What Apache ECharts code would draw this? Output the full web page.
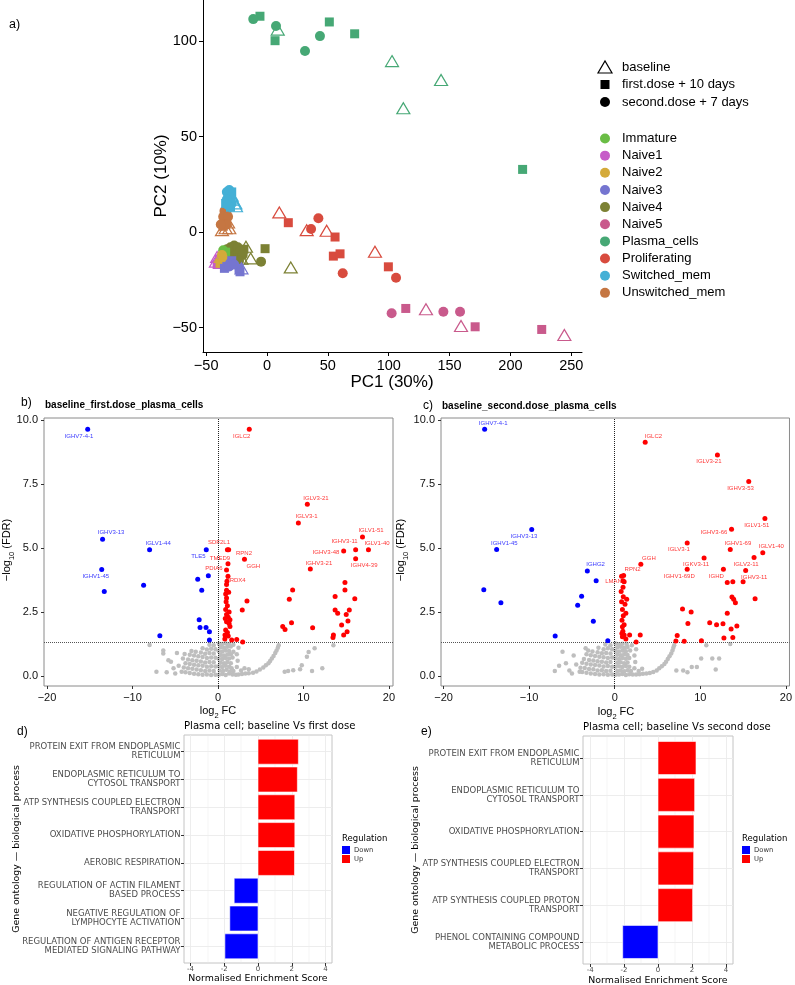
<!DOCTYPE html>
<html><head><meta charset="utf-8">
<script src="https://cdn.jsdelivr.net/npm/echarts/dist/echarts.min.js"></script>
<style>html,body{margin:0;padding:0;background:#fff}#c{width:795px;height:985px}</style>
</head><body><div id="c"></div>
<script>
// ================= DATA =================
// Panel a: PCA, [PC1, PC2, timepoint]  b = baseline, f = first.dose + 10 days, s = second.dose + 7 days
const cellTypes = ['Immature','Naive1','Naive2','Naive3','Naive4','Naive5','Plasma_cells','Proliferating','Switched_mem','Unswitched_mem'];
const Immature = [[-36,-9.5,'s'],[-34,-10.5,'f'],[-37,-11,'b']];
const Naive1 = [[-41,-13,'b'],[-42,-15.5,'b'],[-40,-16,'s'],[-39,-14,'f'],[-41,-17,'f']];
const Naive2 = [[-37,-12,'s'],[-38.6,-16.4,'f'],[-36,-14,'s'],[-38,-13,'b']];
const Naive3 = [[-30.4,-16.3,'s'],[-31,-18,'s'],[-29,-15,'f'],[-33,-18,'f'],[-22.2,-20.8,'f'],[-23,-19,'f'],[-21,-19,'b'],[-27,-17,'s'],[-35,-19,'f']];
const Naive4 = [[-33,-9,'s'],[-30,-8,'s'],[-27,-7,'s'],[-24,-8,'s'],[-22,-10,'s'],[-20,-12,'s'],[-25,-12,'f'],[-28,-11,'f'],[-31,-13,'f'],[-23,-15,'s'],[-26,-16,'f'],[-19,-9,'f'],[-17.3,-7.7,'b'],[-13.4,-13.8,'b'],[-1.6,-8.7,'f'],[-4.9,-15.5,'s'],[19.5,-18.5,'b'],[-21,-14,'b']];
const Naive5 = [[102.4,-42.5,'s'],[114,-40,'f'],[130.6,-40.4,'b'],[144.9,-41.7,'s'],[158.6,-41.7,'s'],[159.4,-49.2,'b'],[171,-49.6,'f'],[225.7,-51,'f'],[244.3,-53.9,'b']];
const Plasma_cells = [[-11.3,111.5,'s'],[-5.8,113,'f'],[7.4,107.9,'s'],[8.8,106,'b'],[6.6,100.2,'f'],[31.2,94.8,'s'],[43.5,102.6,'s'],[51.2,110,'f'],[72,103.8,'f'],[102.7,89.5,'b'],[112,64.8,'b'],[143,79.6,'b'],[210,32.8,'f']];
const Proliferating = [[10.1,10.3,'b'],[17.5,4.9,'f'],[42.2,7.2,'s'],[36.2,1.6,'s'],[32.6,1.0,'b'],[49,0.7,'b'],[55.9,-2.6,'f'],[54.5,-12.6,'f'],[60,-11.4,'f'],[62.2,-21.6,'s'],[88.7,-10.3,'b'],[99.7,-18.2,'f'],[106,-23.9,'s']];
const Switched_mem = [[-33,21,'s'],[-31,22,'s'],[-29,21,'f'],[-32,19,'f'],[-30,18,'s'],[-33,17,'s'],[-31,16,'f'],[-29,15,'s'],[-34,15,'f'],[-32,14,'s'],[-30,13,'f'],[-28,17,'b'],[-26,15,'b'],[-25.5,13.5,'b'],[-29,19,'b']];
const Unswitched_mem = [[-35,11,'s'],[-33,10,'f'],[-36,8,'s'],[-34,7,'f'],[-32,8,'s'],[-35,5,'f'],[-33,4,'s'],[-36,3,'f'],[-34,2,'b'],[-31,2,'b'],[-37,1,'b'],[-32,5,'b'],[-38,4,'s']];
const pc1Ticks = [-50,0,50,100,150,200,250];
const pc2Ticks = [-50,0,50,100];
const timeLabels = ['baseline','first.dose + 10 days','second.dose + 7 days'];

// Panel b: baseline_first.dose_plasma_cells  [log2FC, -log10 FDR]
const grayB = [
[0.1,0.05],[0.5,0.08],[0.9,0.04],[1.3,0.1],[1.7,0.06],[2.1,0.05],[0.2,0.22],[0.6,0.2],[1.0,0.24],[1.4,0.18],[1.8,0.2],
[0.1,0.38],[0.5,0.35],[0.9,0.4],[1.3,0.36],[1.6,0.3],[0.3,0.52],[0.7,0.5],[1.1,0.55],[1.5,0.5],
[0.1,0.67],[0.5,0.66],[0.9,0.7],[1.3,0.68],[1.7,0.72],[0.3,0.82],[0.7,0.8],[1.1,0.84],[1.5,0.85],
[0.1,0.97],[0.5,0.96],[0.9,1.0],[1.3,0.98],[1.8,0.95],[0.3,1.12],[0.7,1.1],[1.1,1.14],[1.5,1.15],
[0.1,1.26],[0.5,1.25],[0.9,1.28],[1.3,1.24],[1.8,1.22],
[-0.3,0.05],[-0.8,0.04],[-1.3,0.06],[-1.8,0.05],[-2.3,0.07],[-2.8,0.09],[-3.3,0.12],[-3.8,0.15],
[-0.5,0.2],[-1.0,0.22],[-1.5,0.2],[-2.0,0.23],[-2.5,0.25],[-3.0,0.28],[-3.5,0.3],[-4.0,0.33],
[-0.3,0.37],[-0.8,0.38],[-1.3,0.36],[-1.8,0.4],[-2.3,0.42],[-2.8,0.44],[-3.3,0.47],[-3.8,0.5],
[-0.5,0.54],[-1.0,0.55],[-1.5,0.53],[-2.0,0.57],[-2.5,0.6],[-3.0,0.62],[-3.5,0.65],[-4.1,0.68],
[-0.3,0.71],[-0.8,0.72],[-1.3,0.7],[-1.8,0.74],[-2.3,0.77],[-2.8,0.8],[-3.3,0.83],[-3.9,0.86],
[-0.5,0.88],[-1.0,0.9],[-1.5,0.87],[-2.0,0.92],[-2.6,0.95],[-3.1,0.98],
[-0.3,1.05],[-0.8,1.07],[-1.3,1.04],[-1.8,1.08],[-0.5,1.2],[-1.0,1.22],
[-4.25,0.17],[-4.6,0.4],[-5.2,0.3],[-5.5,0.56],[-5.8,0.62],[-6.0,0.15],[-6.4,1.0],[-6.4,0.88],[-7.2,0.17],[-8.0,1.21],[-4.8,0.9],[-5.0,0.1],
[2.4,0.06],[2.8,0.08],[3.2,0.1],[3.6,0.11],[4.1,0.13],[4.5,0.18],[4.9,0.25],[5.3,0.33],[5.6,0.42],[5.9,0.5],[6.1,0.59],[6.3,0.68],[6.5,0.78],[6.7,0.9],[6.85,1.0],[7.0,1.1],[7.1,1.2],
[2.2,0.35],[2.3,0.6],[2.2,0.85],[2.4,1.1],[2.7,0.22],[3.1,0.3],[3.6,0.26],
[7.8,0.17],[8.2,0.2],[8.8,0.23],[9.6,0.26],[9.8,0.42],[10.4,0.75],[10.6,0.94],[11.3,1.08],[12.2,0.3],[13.5,1.2],[11.0,0.2]];
const downB = [[-15.24,9.64],[-13.5,5.34],[-8.0,4.93],[-13.6,4.16],[-13.3,3.3],[-8.7,3.55],[-1.37,4.93],[-2.37,3.78],[-1.13,3.92],[-1.9,3.35],[-2.2,2.2],[-2.1,1.9],[-1.4,1.9],[-1.0,1.73],[-6.8,1.57],[-1.0,1.41]];
const upB = [[3.66,9.64],[10.45,6.71],[9.4,5.98],[16.9,5.43],[16.1,4.93],[17.6,4.93],[14.7,4.88],[16.1,4.58],[10.8,4.18],
[1.25,4.93],[1.1,4.93],[3.1,4.56],[1.17,4.39],[1.0,4.14],[1.0,3.58],[1.17,3.9],[1.0,3.35],[1.25,3.27],[1.0,3.05],
[14.85,3.65],[14.85,3.36],[8.73,3.36],[8.34,3.0],[13.7,3.11],[16.0,3.02],[13.7,2.58],[14.0,2.45],[15.36,2.58],[3.39,2.93],[2.84,2.58],
[0.95,2.9],[1.1,2.75],[0.9,2.6],[1.3,2.5],[1.0,2.4],[1.2,2.3],[0.85,2.25],[1.4,2.2],[1.0,2.12],[1.4,1.93],[0.82,1.6],[1.2,1.56],[1.6,1.41],[2.19,1.43],[2.89,1.33],[0.9,1.8],[1.1,1.7],[0.8,1.45],[1.3,2.05],[0.9,3.2],[1.05,3.7],
[7.57,1.93],[7.84,1.82],[8.6,2.08],[11.07,1.89],[13.5,1.6],[13.45,1.5],[14.46,1.99],[15.2,2.15],[15.1,1.73],[14.7,1.6],[15.0,2.4]];
const labelsDownB = [['IGHV7-4-1',-16.26,9.35],['IGHV3-13',-12.5,5.6],['IGLV1-44',-7.0,5.2],['IGHV1-45',-14.3,3.9],['TLE5',-2.3,4.66]];
const labelsUpB = [['IGLC2',2.77,9.38],['IGLV3-21',11.46,6.95],['IGLV3-1',10.37,6.22],['IGLV1-51',17.9,5.68],['IGHV3-11',14.8,5.26],['IGLV1-40',18.6,5.18],['IGHV3-48',12.63,4.83],['IGHV4-39',17.1,4.31],['IGHV3-21',11.8,4.4],['SDF2L1',0.12,5.23],['RPN2',3.04,4.79],['TMED9',0.23,4.61],['GGH',4.13,4.3],['PDIA6',-0.47,4.2],['PRDX4',2.07,3.74]];

// Panel c: baseline_second.dose_plasma_cells
const grayC = [
[0.1,0.05],[0.5,0.06],[0.9,0.08],[1.3,0.04],[1.7,0.07],[2.1,0.06],[0.3,0.2],[0.7,0.22],[1.1,0.19],[1.5,0.23],[1.9,0.2],
[0.1,0.36],[0.5,0.38],[0.9,0.35],[1.3,0.39],[1.7,0.36],[0.3,0.52],[0.7,0.54],[1.1,0.5],[1.5,0.53],
[0.1,0.68],[0.5,0.66],[0.9,0.7],[1.3,0.67],[1.7,0.7],[0.3,0.83],[0.7,0.81],[1.1,0.85],[1.5,0.82],
[0.1,0.98],[0.5,0.96],[0.9,1.0],[1.3,0.97],[1.8,1.0],[0.3,1.12],[0.7,1.14],[1.1,1.1],[1.5,1.13],
[0.1,1.27],[0.5,1.24],[0.9,1.26],[1.4,1.25],[2.0,1.2],
[-0.3,0.06],[-0.8,0.05],[-1.3,0.07],[-1.8,0.06],[-2.3,0.08],[-2.8,0.1],[-3.3,0.13],[-3.8,0.16],
[-0.5,0.21],[-1.0,0.2],[-1.5,0.23],[-2.0,0.22],[-2.5,0.26],[-3.0,0.27],[-3.5,0.31],[-4.0,0.32],
[-0.3,0.36],[-0.8,0.39],[-1.3,0.37],[-1.8,0.41],[-2.3,0.43],[-2.8,0.45],[-3.3,0.48],[-3.8,0.52],
[-0.5,0.55],[-1.0,0.53],[-1.5,0.56],[-2.0,0.58],[-2.5,0.61],[-3.0,0.63],[-3.6,0.66],
[-0.3,0.72],[-0.8,0.7],[-1.3,0.73],[-1.8,0.75],[-2.3,0.78],[-2.8,0.81],[-3.3,0.85],
[-0.5,0.88],[-1.0,0.9],[-1.5,0.89],[-2.0,0.93],[-2.6,0.96],[-3.1,1.0],
[-0.3,1.05],[-0.8,1.08],[-1.3,1.05],[-1.9,1.1],[-0.5,1.2],[-1.1,1.23],
[-4.1,0.17],[-4.5,0.45],[-5.3,0.22],[-5.7,0.5],[-6.1,0.95],[-3.4,1.08],[-6.5,0.4],[-7.0,0.2],[-4.8,0.8],[-5.0,0.1],
[2.5,0.06],[2.9,0.07],[3.3,0.09],[3.7,0.1],[4.1,0.12],[4.5,0.16],[4.9,0.22],[5.2,0.3],[5.5,0.38],[5.8,0.47],[6.0,0.56],[6.2,0.66],[6.4,0.77],[6.6,0.88],[6.75,1.0],[6.85,1.1],[6.95,1.2],
[2.3,0.3],[2.4,0.55],[2.3,0.8],[2.5,1.05],[2.8,0.2],[3.2,0.28],
[7.2,0.22],[8.0,0.22],[8.5,0.15],[9.0,0.35],[9.6,0.35],[10.1,0.68],[10.7,1.2],[11.4,0.68],[12.2,0.68],[13.5,1.25],[11.8,0.25]];
const downC = [[-15.2,9.64],[-9.7,5.72],[-13.8,4.94],[-15.3,3.37],[-13.3,2.86],[-3.2,4.1],[-2.17,3.72],[-3.87,3.12],[-4.33,2.76],[-2.5,2.14],[-6.96,1.56],[-0.81,1.38]];
const upC = [[3.56,9.13],[12.0,8.63],[15.66,7.6],[17.55,6.15],[13.65,5.73],[8.47,5.2],[13.5,4.94],[17.3,4.82],[10.44,4.61],[3.05,4.37],[15.3,4.12],[8.47,4.17],[12.7,4.17],[16.28,4.63],
[13.15,3.65],[13.8,3.68],[15.0,3.68],[1.04,3.93],[0.97,3.72],[1.1,3.68],[0.97,3.47],[1.0,3.1],[13.7,3.09],[13.9,3.0],[16.4,3.02],[14.1,2.86],[7.92,2.62],[8.93,2.5],[13.15,2.45],
[0.85,2.18],[0.9,1.92],[0.84,1.66],[0.9,1.53],[1.1,1.6],[1.74,1.6],[2.98,1.6],[2.5,1.33],[7.3,1.58],[7.15,1.37],[8.12,1.36],[8.55,2.05],[10.13,1.38],[11.1,2.08],[11.9,2.0],[12.65,2.04],[12.76,1.49],[13.6,1.84],[13.8,1.5],[14.27,1.95],
[0.8,2.9],[1.2,2.8],[0.9,2.6],[1.3,2.45],[1.0,2.35],[0.75,3.3],[1.4,3.0],[1.1,2.0],[0.95,1.75],[1.3,1.45],[0.8,3.9]];
const labelsDownC = [['IGHV7-4-1',-14.2,9.89],['IGHV3-13',-10.6,5.46],['IGHV1-45',-12.9,5.19],['IGHG2',-2.24,4.35]];
const labelsUpC = [['IGLC2',4.52,9.37],['IGLV3-21',11.0,8.37],['IGHV3-53',14.7,7.34],['IGLV1-51',16.6,5.9],['IGHV3-66',11.6,5.63],['IGLV3-1',7.5,4.94],['IGHV1-69',14.4,5.19],['IGLV1-40',18.3,5.06],['IGKV3-11',9.5,4.35],['GGH',4.0,4.61],['IGLV2-11',15.35,4.38],['IGHV1-69D',7.54,3.91],['IGHD',11.87,3.91],['IGHV3-11',16.3,3.85],['RPN2',2.09,4.16],['LMAN1',0.06,3.68]];
const volcXTicks = [-20,-10,0,10,20];
const volcYTicks = [0,2.5,5,7.5,10];
const fdrThreshold = 1.3;

// Panels d, e: GSEA normalised enrichment scores (top to bottom)
const catsD = ['PROTEIN EXIT FROM ENDOPLASMIC\nRETICULUM','ENDOPLASMIC RETICULUM TO\nCYTOSOL TRANSPORT','ATP SYNTHESIS COUPLED ELECTRON\nTRANSPORT','OXIDATIVE PHOSPHORYLATION','AEROBIC RESPIRATION','REGULATION OF ACTIN FILAMENT\nBASED PROCESS','NEGATIVE REGULATION OF\nLYMPHOCYTE ACTIVATION','REGULATION OF ANTIGEN RECEPTOR\nMEDIATED SIGNALING PATHWAY'];
const nesD = [2.39,2.33,2.18,2.18,2.16,-1.41,-1.67,-1.96];
const catsE = ['PROTEIN EXIT FROM ENDOPLASMIC\nRETICULUM','ENDOPLASMIC RETICULUM TO\nCYTOSOL TRANSPORT','OXIDATIVE PHOSPHORYLATION','ATP SYNTHESIS COUPLED ELECTRON\nTRANSPORT','ATP SYNTHESIS COUPLED PROTON\nTRANSPORT','PHENOL CONTAINING COMPOUND\nMETABOLIC PROCESS'];
const nesE = [2.24,2.16,2.12,2.10,2.04,-2.08];
const nesTicks = [-4,-2,0,2,4];
const nesGrid = [-4,-3,-2,-1,0,1,2,3,4];

// ================= STYLE =================
const FA = "'Liberation Sans', Arial, Helvetica, sans-serif";
const FD = "'DejaVu Sans', Verdana, sans-serif";
const cellColors = ['#6ABD45','#C65CC8','#D4AA3A','#7575D0','#7C8134','#C95A8C','#46A875','#D84B3E','#44B0D6','#C57642'];
const RED = '#FF0000', BLUE = '#0000FF', GRAY = '#BEBEBE';
const minus = v => v < 0 ? '\u2212' + (-v) : String(v);

const chart = echarts.init(document.getElementById('c'), null, {renderer: 'canvas'});

const grids = [
  {left: 203, top: 0, width: 379, height: 352},
  {left: 44, top: 418, width: 349, height: 268, show: true, borderColor: '#8a8a8a', borderWidth: 1},
  {left: 441, top: 418, width: 351, height: 268, show: true, borderColor: '#8a8a8a', borderWidth: 1},
  {left: 184, top: 735, width: 148, height: 228, show: true, borderColor: '#c4c4c4', borderWidth: 1},
  {left: 583, top: 736, width: 150, height: 228, show: true, borderColor: '#c4c4c4', borderWidth: 1}
];

function axis(gi, min, max, ticks, fmt, o) {
  return {
    gridIndex: gi, type: 'value', min, max,
    axisLine: {show: o.line, onZero: false, lineStyle: {color: '#000', width: 1}},
    axisTick: {show: true, customValues: ticks, length: o.tl, lineStyle: {color: o.tc, width: 1}},
    axisLabel: {customValues: ticks, formatter: fmt, fontSize: o.fs, color: o.lc, fontFamily: o.ff, margin: o.m, lineHeight: o.lh},
    splitLine: {show: false}
  };
}
const oA = {line: true, tl: 4, tc: '#000', fs: 14.5, lc: '#000', ff: FA, m: 6};
const oV = {line: false, tl: 3, tc: '#333', fs: 11, lc: '#111', ff: FA, m: 6};
const oG = {line: false, tl: 3, tc: '#333', fs: 7, lc: '#4D4D4D', ff: FD, m: 3};

const xAxis = [
  axis(0, -52.6, 258.8, pc1Ticks, minus, oA),
  axis(1, -20.35, 20.47, volcXTicks, minus, oV),
  axis(2, -20.3, 20.42, volcXTicks, minus, oV),
  axis(3, -4.38, 4.38, nesTicks, v => String(v), oG),
  axis(4, -4.42, 4.42, nesTicks, v => String(v), oG)
];
const posD = catsD.map((c, i) => catsD.length - i);
const posE = catsE.map((c, i) => catsE.length - i);
const yAxis = [
  axis(0, -62.8, 121.5, pc2Ticks, minus, oA),
  axis(1, -0.39, 10.08, volcYTicks, v => v.toFixed(1), oV),
  axis(2, -0.39, 10.08, volcYTicks, v => v.toFixed(1), oV),
  axis(3, 0.4, 8.6, posD, v => catsD[catsD.length - v], Object.assign({}, oG, {fs: 8.5, lh: 9, m: 3.5})),
  axis(4, 0.4, 6.6, posE, v => catsE[catsE.length - v], Object.assign({}, oG, {fs: 8.5, lh: 9, m: 3.5}))
];

const series = [];
// ---- panel a ----
const cellData = {Immature, Naive1, Naive2, Naive3, Naive4, Naive5, Plasma_cells, Proliferating, Switched_mem, Unswitched_mem};
const shapeOf = {b: 'triangle', f: 'rect', s: 'circle'};
const sizeOf = {b: [13, 11], f: 9, s: 10};
const drawOrder = ['Naive4','Immature','Naive1','Naive2','Naive3','Naive5','Plasma_cells','Proliferating','Unswitched_mem','Switched_mem'];
drawOrder.forEach(ct => {
  const col = cellColors[cellTypes.indexOf(ct)];
  ['b','f','s'].forEach(tp => {
    const pts = cellData[ct].filter(p => p[2] === tp).map(p => [p[0], p[1]]);
    if (!pts.length) return;
    series.push({
      type: 'scatter', xAxisIndex: 0, yAxisIndex: 0, silent: true,
      symbol: shapeOf[tp], symbolSize: sizeOf[tp], data: pts,
      itemStyle: tp === 'b' ? {color: 'rgba(0,0,0,0)', borderColor: col, borderWidth: 1.2, opacity: 1} : {color: col, opacity: 1}
    });
  });
});

// ---- panels b, c ----
function labelSeries(gi, arr, color) {
  return {type: 'scatter', xAxisIndex: gi, yAxisIndex: gi, silent: true, z: 3, symbolSize: 1,
    itemStyle: {color: 'rgba(0,0,0,0)'},
    data: arr.map(d => ({value: [d[1], d[2]], name: d[0]})),
    label: {show: true, position: 'inside', formatter: '{b}', fontSize: 6, color, fontFamily: FA}};
}
function volcano(gi, gray, down, up, ld, lu) {
  series.push({type: 'scatter', xAxisIndex: gi, yAxisIndex: gi, silent: true, z: 2, data: gray, symbolSize: 4.5, itemStyle: {color: GRAY, opacity: 1}});
  series.push({type: 'scatter', xAxisIndex: gi, yAxisIndex: gi, silent: true, z: 2, data: [],
    markLine: {silent: true, z: 3, symbol: 'none', animation: false, label: {show: false},
      data: [{xAxis: 0, lineStyle: {type: 'dotted', color: '#222', width: 1}},
             {yAxis: fdrThreshold, lineStyle: {type: 'dotted', color: '#555', width: 1}}]}});
  series.push({type: 'scatter', xAxisIndex: gi, yAxisIndex: gi, silent: true, z: 4, data: down, symbolSize: 5, itemStyle: {color: BLUE, opacity: 1}});
  series.push({type: 'scatter', xAxisIndex: gi, yAxisIndex: gi, silent: true, z: 4, data: up, symbolSize: 5, itemStyle: {color: RED, opacity: 1}});
  series.push(labelSeries(gi, ld, BLUE));
  series.push(labelSeries(gi, lu, RED));
}
volcano(1, grayB, downB, upB, labelsDownB, labelsUpB);
volcano(2, grayC, downC, upC, labelsDownC, labelsUpC);

// ---- panels d, e ----
function bars(gi, vals, pos) {
  series.push({type: 'scatter', xAxisIndex: gi, yAxisIndex: gi, silent: true, z: 1, data: [],
    markLine: {silent: true, z: 1, symbol: 'none', animation: false, label: {show: false},
      data: nesGrid.map(v => ({xAxis: v, lineStyle: {type: 'solid', color: '#EBEBEB', width: v % 2 === 0 ? 0.9 : 0.45}}))
        .concat(pos.map(p => ({yAxis: p, lineStyle: {type: 'solid', color: '#EBEBEB', width: 0.9}})))}});
  series.push({type: 'custom', xAxisIndex: gi, yAxisIndex: gi, silent: true, z: 8,
    data: vals.map((v, i) => [v, pos[i]]),
    renderItem: (params, api) => {
      const v = api.value(0), p = api.value(1);
      const a = api.coord([0, p]), b = api.coord([v, p]);
      const h = api.size([0, 0.9])[1];
      return {type: 'rect', shape: {x: Math.min(a[0], b[0]), y: a[1] - h / 2, width: Math.abs(b[0] - a[0]), height: h},
        style: {fill: v > 0 ? RED : BLUE, stroke: '#fff', lineWidth: 0.6}};
    }});
}
bars(3, nesD, posD);
bars(4, nesE, posE);

// ---- text / legends ----
function T(x, y, text, o = {}) {
  return {type: 'text', x, y, rotation: o.rot || 0, silent: true, z: 100,
    style: {text, fill: o.fill || '#000', fontSize: o.fs || 12, fontFamily: o.ff || FA, fontWeight: o.fw || 'normal',
      textAlign: o.align || 'left', align: o.align || 'left', textVerticalAlign: 'middle', verticalAlign: 'middle', rich: o.rich}};
}
const g = [];
g.push(T(9, 25, 'a)', {fs: 12.5}));
// shape legend
g.push({type: 'polygon', silent: true, shape: {points: [[598, 73], [612, 73], [605, 61]]}, style: {fill: 'none', stroke: '#000', lineWidth: 1.2}});
g.push({type: 'rect', silent: true, shape: {x: 600.5, y: 80, width: 9, height: 9}, style: {fill: '#000'}});
g.push({type: 'circle', silent: true, shape: {cx: 605, cy: 102, r: 5}, style: {fill: '#000'}});
timeLabels.forEach((t, i) => g.push(T(622, 67 + i * 17.5, t, {fs: 13})));
cellTypes.forEach((ct, i) => {
  const y = 138.5 + i * 17.15;
  g.push({type: 'circle', silent: true, shape: {cx: 605, cy: y, r: 5}, style: {fill: cellColors[i]}});
  g.push(T(622, y, ct, {fs: 13}));
});
g.push(T(161, 176, 'PC2 (10%)', {fs: 17, align: 'center', rot: Math.PI / 2}));
g.push(T(392, 382, 'PC1 (30%)', {fs: 17, align: 'center'}));
// b, c
const richLog = {a: {fontSize: 11, fontFamily: FA, fill: '#000', lineHeight: 18, verticalAlign: 'middle'},
                 s: {fontSize: 7.5, fontFamily: FA, fill: '#000', verticalAlign: 'bottom'}};
g.push(T(21, 403, 'b)', {fs: 12}));
g.push(T(45, 405, 'baseline_first.dose_plasma_cells', {fs: 10, fw: 'bold'}));
g.push(T(423, 406, 'c)', {fs: 12}));
g.push(T(442, 406, 'baseline_second.dose_plasma_cells', {fs: 10, fw: 'bold'}));
g.push(T(7, 550, '{a|\u2212log}{s|10}{a| (FDR)}', {align: 'center', rot: Math.PI / 2, rich: richLog}));
g.push(T(401, 550, '{a|\u2212log}{s|10}{a| (FDR)}', {align: 'center', rot: Math.PI / 2, rich: richLog}));
g.push(T(218, 711, '{a|log}{s|2}{a| FC}', {align: 'center', rich: richLog}));
g.push(T(616, 712, '{a|log}{s|2}{a| FC}', {align: 'center', rich: richLog}));
// d, e
g.push(T(17, 732, 'd)', {fs: 12}));
g.push(T(421, 732, 'e)', {fs: 12}));
g.push(T(184, 726, 'Plasma cell; baseline Vs first dose', {fs: 10.1, ff: FD}));
g.push(T(583, 727, 'Plasma cell; baseline Vs second dose', {fs: 10.1, ff: FD}));
g.push(T(17, 849, 'Gene ontology \u2014 biological process', {fs: 9.4, ff: FD, align: 'center', rot: Math.PI / 2}));
g.push(T(416, 850, 'Gene ontology \u2014 biological process', {fs: 9.4, ff: FD, align: 'center', rot: Math.PI / 2}));
g.push(T(258, 979, 'Normalised Enrichment Score', {fs: 9.4, ff: FD, align: 'center'}));
g.push(T(658, 981, 'Normalised Enrichment Score', {fs: 9.4, ff: FD, align: 'center'}));
[[342, 839], [742, 839]].forEach(([lx, ly]) => {
  g.push(T(lx, ly, 'Regulation', {fs: 8.5, ff: FD}));
  g.push({type: 'rect', silent: true, shape: {x: lx, y: ly + 7, width: 8, height: 8}, style: {fill: BLUE}});
  g.push({type: 'rect', silent: true, shape: {x: lx, y: ly + 16, width: 8, height: 8}, style: {fill: RED}});
  g.push(T(lx + 12, ly + 11.5, 'Down', {fs: 6.8, ff: FD, fill: '#333'}));
  g.push(T(lx + 12, ly + 20.5, 'Up', {fs: 6.8, ff: FD, fill: '#333'}));
});

chart.setOption({
  animation: false,
  backgroundColor: '#ffffff',
  textStyle: {fontFamily: FA},
  grid: grids, xAxis, yAxis, series,
  graphic: {elements: g}
});
</script></body></html>
